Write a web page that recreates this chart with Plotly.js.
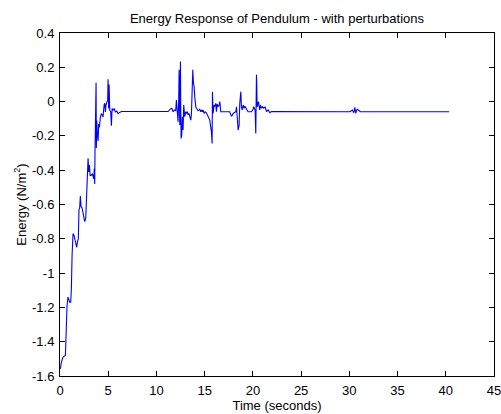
<!DOCTYPE html>
<html>
<head>
<meta charset="utf-8">
<script src="https://cdn.plot.ly/plotly-3.0.1.min.js"></script>
<style>html,body{margin:0;padding:0;background:#fff;}#chart{width:501px;height:414px;}</style>
</head>
<body>
<div id="chart"></div>
<script>
// Time (seconds)
var time = [
  0.00, 0.07, 0.14, 0.31, 0.56, 0.59, 0.66, 0.73, 0.83, 1.01, 1.11, 1.18, 1.25, 1.35, 1.46, 1.59, 1.73, 1.80, 1.90, 1.97,
  2.04, 2.11, 2.18, 2.29, 2.39, 2.49, 2.56, 2.67, 2.73, 2.80, 2.87, 2.91, 2.98, 3.05, 3.12, 3.25, 3.36, 3.50, 3.56, 3.60,
  3.63, 3.67, 3.70, 3.74, 3.77, 3.81, 3.88, 3.95, 4.01, 4.08, 4.19, 4.29, 4.40, 4.46, 4.57, 4.64, 4.71, 4.77, 4.88, 4.95,
  4.98, 5.02, 5.05, 5.09, 5.16, 5.26, 5.33, 5.40, 5.50, 5.61, 5.74, 5.88, 6.02, 6.19, 6.37,
  11.21, 11.38, 11.48, 11.59, 11.73, 11.87, 12.00, 12.07, 12.14, 12.24, 12.31, 12.35, 12.42, 12.45, 12.49, 12.52, 12.56, 12.59, 12.62, 12.69,
  12.76, 12.83, 12.90, 12.93, 13.04, 13.11, 13.21, 13.28, 13.38, 13.45, 13.56, 13.63, 13.70, 13.77, 13.80, 13.84, 13.91, 13.97, 14.01, 14.08,
  14.15, 14.25, 14.32, 14.42, 14.49, 14.60, 14.67, 14.77, 14.84, 14.94, 15.05, 15.18, 15.29, 15.36, 15.46, 15.53, 15.60, 15.70, 15.77, 15.81,
  15.84, 15.87, 15.94, 15.98, 16.08, 16.15, 16.22, 16.29, 16.39, 16.50, 16.57, 16.60, 16.67, 16.91, 17.26, 17.60, 17.71, 17.81, 17.95, 18.12,
  18.23, 18.30, 18.37, 18.43, 18.47, 18.54, 18.57, 18.64, 18.71, 18.75, 18.81, 18.88, 18.99, 19.09, 19.16, 19.26, 19.40, 19.50, 19.85, 20.02,
  20.09, 20.16, 20.23, 20.30, 20.33, 20.37, 20.40, 20.44, 20.51, 20.58, 20.65, 20.71, 20.78, 20.89, 20.99, 21.13, 21.27, 21.41, 21.58, 21.76,
  21.93,
  30.05, 30.22, 30.33, 30.40, 30.47, 30.57, 30.64, 30.67, 30.74, 30.81, 30.91, 31.01, 31.15, 40.35
];
// Energy (N/m^2)
var energy = [
  -1.56, -1.55, -1.52, -1.49, -1.48, -1.43, -1.28, -1.19, -1.14, -1.17, -1.17, -1.09, -0.90, -0.77, -0.78, -0.82, -0.85, -0.82, -0.80, -0.63,
  -0.62, -0.55, -0.61, -0.62, -0.65, -0.66, -0.70, -0.68, -0.61, -0.49, -0.37, -0.33, -0.41, -0.37, -0.43, -0.43, -0.42, -0.45, -0.39, -0.48,
  -0.29, -0.18, -0.20, 0.11, -0.27, -0.11, -0.20, -0.23, -0.13, -0.15, -0.09, -0.07, -0.08, -0.09, -0.02, -0.01, -0.06, -0.02, 0.00, 0.01,
  0.13, 0.05, -0.04, 0.10, -0.05, -0.06, -0.14, -0.04, -0.05, -0.04, -0.06, -0.055, -0.07, -0.063, -0.058,
  -0.058, -0.045, -0.041, -0.039, -0.059, -0.049, -0.053, 0.009, -0.039, -0.117, 0.009, 0.185, -0.137, 0.107, 0.234, -0.049, -0.215, -0.147, -0.195, -0.088,
  -0.166, -0.020, -0.069, -0.088, -0.059, -0.069, -0.059, -0.078, -0.069, -0.088, -0.108, -0.069, 0.068, 0.185, 0.146, 0.107, 0.087, 0.029, -0.030, -0.030,
  -0.039, -0.045, -0.053, -0.049, -0.045, -0.059, -0.049, -0.059, -0.049, -0.069, -0.059, -0.065, -0.078, -0.088, -0.098, -0.108, -0.137, -0.176, -0.244, 0.058,
  -0.010, -0.069, -0.039, -0.020, -0.026, -0.010, -0.059, -0.014, -0.030, -0.020, 0.000, -0.039, -0.059, -0.059, -0.059, -0.059, -0.078, -0.084, -0.069, -0.065,
  -0.059, -0.030, -0.117, -0.117, -0.166, -0.147, -0.137, -0.010, 0.039, 0.058, -0.030, -0.049, -0.020, -0.039, -0.026, -0.034, -0.049, -0.059, -0.059, -0.045,
  -0.030, -0.045, -0.049, -0.186, 0.009, 0.156, 0.107, -0.030, -0.010, 0.000, -0.030, -0.049, -0.020, -0.039, -0.030, -0.039, -0.030, -0.059, -0.049, -0.065,
  -0.058,
  -0.059, -0.053, -0.049, -0.059, -0.065, -0.034, -0.049, -0.069, -0.053, -0.045, -0.049, -0.053, -0.059, -0.059
];
var xTickVals = [0, 5, 10, 15, 20, 25, 30, 35, 40, 45];
var xTickText = ["0", "5", "10", "15", "20", "25", "30", "35", "40", "45"];
var yTickVals = [0.4, 0.2, 0, -0.2, -0.4, -0.6, -0.8, -1, -1.2, -1.4, -1.6];
var yTickText = ["0.4", "0.2", "0", "-0.2", "-0.4", "-0.6", "-0.8", "-1", "-1.2", "-1.4", "-1.6"];

var font = {family: "Liberation Sans, Arial, sans-serif", size: 13, color: "#000"};

var trace = {
  x: time, y: energy, type: "scatter", mode: "lines",
  line: {color: "#0000ff", width: 1.1}, hoverinfo: "skip"
};

var axisCommon = {
  showgrid: false, zeroline: false, showline: true, linecolor: "#000", linewidth: 1,
  mirror: "ticks", ticks: "inside", ticklen: 5, tickcolor: "#000", tickwidth: 1,
  tickmode: "array", tickfont: font, ticklabeloverflow: "allow"
};

var layout = {
  width: 501, height: 414,
  margin: {l: 60, r: 7, t: 33, b: 38, pad: 0},
  paper_bgcolor: "#fff", plot_bgcolor: "#fff",
  font: font,
  showlegend: false,
  title: {text: "Energy Response of Pendulum - with perturbations", font: font,
          x: 0.5, xref: "paper", xanchor: "center", y: 0.955, yref: "container", yanchor: "middle"},
  xaxis: Object.assign({}, axisCommon, {
    range: [0, 45], tickvals: xTickVals, ticktext: xTickText, ticklabelstandoff: 2,
    title: {text: "Time (seconds)", font: font, standoff: 1}
  }),
  yaxis: Object.assign({}, axisCommon, {
    range: [-1.6, 0.4], tickvals: yTickVals, ticktext: yTickText, ticklabelstandoff: 2,
    title: {text: "Energy (N/m<sup>2</sup>)", font: font, standoff: 2}
  })
};

Plotly.newPlot("chart", [trace], layout, {displayModeBar: false, staticPlot: true});
</script>
</body>
</html>
